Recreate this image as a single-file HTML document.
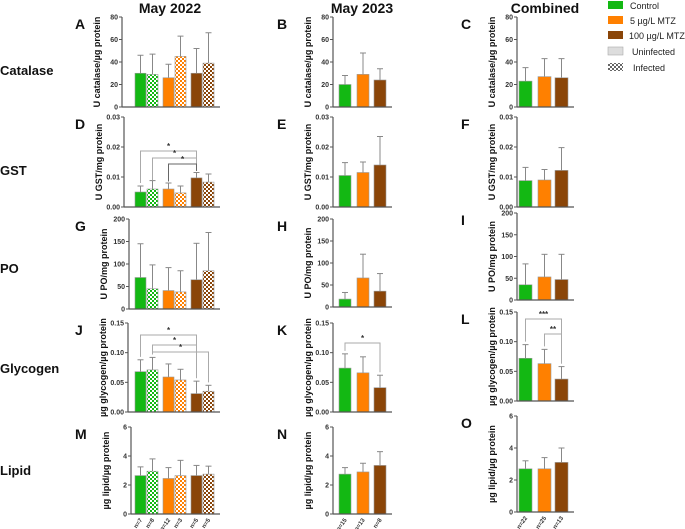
<!DOCTYPE html>
<html><head><meta charset="utf-8"><style>
html,body{margin:0;padding:0;background:#fff;}
svg{display:block;font-family:"Liberation Sans",Arial,sans-serif;}
</style></head><body>
<svg id="chart" width="685" height="529" viewBox="0 0 685 529">
<defs>
<pattern id="chk-green" width="4" height="4" patternUnits="userSpaceOnUse"><rect width="4" height="4" fill="#fff"/><rect width="2" height="2" fill="#13b813"/><rect x="2" y="2" width="2" height="2" fill="#13b813"/></pattern>
<pattern id="chk-orange" width="4" height="4" patternUnits="userSpaceOnUse"><rect width="4" height="4" fill="#fff"/><rect width="2" height="2" fill="#ff8000"/><rect x="2" y="2" width="2" height="2" fill="#ff8000"/></pattern>
<pattern id="chk-brown" width="4" height="4" patternUnits="userSpaceOnUse"><rect width="4" height="4" fill="#fff"/><rect width="2" height="2" fill="#8a4508"/><rect x="2" y="2" width="2" height="2" fill="#8a4508"/></pattern>
<pattern id="chk-grey" width="4" height="4" patternUnits="userSpaceOnUse"><rect width="4" height="4" fill="#fff"/><rect width="2" height="2" fill="#666"/><rect x="2" y="2" width="2" height="2" fill="#666"/></pattern>
</defs>
<g font-weight="bold" font-size="14" fill="#111">
<text x="170" y="13" text-anchor="middle">May 2022</text>
<text x="362" y="13" text-anchor="middle">May 2023</text>
<text x="545" y="13" text-anchor="middle">Combined</text>
</g>
<g font-weight="bold" font-size="13" fill="#111">
<text x="0" y="75">Catalase</text>
<text x="0" y="175">GST</text>
<text x="0" y="273">PO</text>
<text x="0" y="373">Glycogen</text>
<text x="0" y="475">Lipid</text>
</g>
<g font-size="9" fill="#222">
<rect x="608" y="1" width="15" height="8" fill="#13b813"/>
<text x="630" y="9">Control</text>
<rect x="608" y="16" width="15" height="8" fill="#ff8000"/>
<text x="630" y="24">5 µg/L MTZ</text>
<rect x="608" y="31" width="15" height="8" fill="#8a4508"/>
<text x="629" y="39">100 µg/L MTZ</text>
<rect x="608" y="47" width="15" height="8" fill="#ddd" stroke="#aaa" stroke-width="0.6"/>
<text x="632" y="55">Uninfected</text>
<rect x="608" y="63" width="15" height="8" fill="url(#chk-grey)"/>
<text x="633" y="71">Infected</text>
</g>
</svg>
<script>
// ---- data ----
const valsA=[30,29,26,45,30,39]; const errA=[46,47,38,63,52,66];
const valsB=[20,29,24]; const errB=[28,48,34];
const valsC=[23,27,26]; const errC=[35,43,43];
const valsD=[0.005,0.006,0.006,0.0047,0.0097,0.0083]; const errD=[0.007,0.0088,0.008,0.007,0.0115,0.011];
const valsE=[0.0105,0.0115,0.014]; const errE=[0.0148,0.015,0.0235];
const valsF=[0.0088,0.009,0.0122]; const errF=[0.0132,0.0125,0.0198];
const valsG=[70,45,41,38,65,85]; const errG=[145,98,92,85,146,170];
const valsH=[18,66,36]; const errH=[33,120,76];
const valsI=[35,53,47]; const errI=[83,105,105];
const valsJ=[0.068,0.071,0.059,0.054,0.031,0.035]; const errJ=[0.088,0.092,0.081,0.072,0.052,0.045];
const valsK=[0.074,0.066,0.041]; const errK=[0.098,0.093,0.062];
const valsL=[0.072,0.063,0.037]; const errL=[0.095,0.087,0.058];
const valsM=[2.65,2.95,2.45,2.65,2.65,2.75]; const errM=[3.25,3.8,3.2,3.7,3.35,3.3];
const valsN=[2.75,2.9,3.35]; const errN=[3.2,3.5,4.3];
const valsO=[2.7,2.7,3.1]; const errO=[3.2,3.4,4.0];
const ticksCat=["0","20","40","60","80"];
const ticksGst=["0.00","0.01","0.02","0.03"];
const ticksPo=["0","50","100","150","200"];
const ticksGly=["0.00","0.05","0.10","0.15"];
const ticksLip=["0","2","4","6"];
const nLabels1=["n=7","n=8","n=12","n=3","n=5","n=5"];
const nLabels2=["n=15","n=13","n=8"];
const nLabels3=["n=22","n=25","n=13"];

const NS="http://www.w3.org/2000/svg";
const svg=document.getElementById('chart');
function mk(tag,attrs,parent){const e=document.createElementNS(NS,tag);for(const k in attrs)e.setAttribute(k,attrs[k]);(parent||svg).appendChild(e);return e;}
const COL=["#13b813","#ff8000","#8a4508"];
const CHK=["url(#chk-green)","url(#chk-orange)","url(#chk-brown)"];
const col1={bx:[135,147,163,175,191,203],bw:11,end:220,letterX:75};
const col2={bx:[339,357,374],bw:12,end:392,letterX:277};
const col3={bx:[519,538,555],bw:13,end:574,letterX:461};

function panel(o){
  const g=mk('g',{});
  
  
  const ymax=parseFloat(o.ticks[o.ticks.length-1]);
  const y=v=>o.bot-(v/ymax)*(o.bot-o.top);
  const c=o.col;
  const L=mk('text',{x:c.letterX,y:o.top+12,'font-size':14,'font-weight':'bold',fill:'#111'},g);L.textContent=o.letter;
  
  
  o.vals.forEach((v,i)=>{
    const six=o.vals.length===6;
    const ci=six?Math.floor(i/2):i;
    const fill=(six&&i%2===1)?CHK[ci]:COL[ci];
    const x=c.bx[i], w=c.bw, cx=x+w/2;
    const et=y(o.errs[i]);
    const el=mk('line',{x1:cx,x2:cx,y1:y(v),y2:et,stroke:'#888','stroke-width':1},g);
    
    
    mk('line',{x1:cx-3,x2:cx+3,y1:et,y2:et,stroke:'#888','stroke-width':1},g);
    const r=mk('rect',{x:x,y:y(v),width:w,height:o.bot-y(v),fill:fill,stroke:'#999','stroke-width':0.6},g);
    
    
  });
  mk('line',{x1:o.ax,x2:o.ax,y1:o.top,y2:o.bot,stroke:'#555','stroke-width':1.2},g);
  mk('line',{x1:o.ax,x2:c.end,y1:o.bot,y2:o.bot,stroke:'#555','stroke-width':1.2},g);
  o.ticks.forEach(t=>{
    const yy=y(parseFloat(t));
    mk('line',{x1:o.ax-3,x2:o.ax,y1:yy,y2:yy,stroke:'#555','stroke-width':1},g);
    const tx=mk('text',{x:o.ax-4,y:yy+2.5,'font-size':7,'font-weight':'bold','text-anchor':'end',fill:'#333'},g);
    tx.textContent=t;
    
    
  });
  const yt=mk('text',{x:0,y:0,'font-size':9,'font-weight':'bold','text-anchor':'middle',fill:'#111',transform:`translate(${o.ax-22},${(o.top+o.bot)/2}) rotate(-90)`},g);
  yt.textContent=o.title;
  
  
  if(o.n){o.n.forEach((t,i)=>{const cx=c.bx[i]+c.bw/2;
    const tt=mk('text',{x:0,y:0,'font-size':6,'font-weight':'bold','text-anchor':'end',fill:'#333',transform:`translate(${cx+2},${o.bot+6}) rotate(-55)`},g);
    tt.textContent=t;
    
    });}
  (o.sig||[]).forEach(s=>{
    const x1=c.bx[s[0]]+c.bw/2, x2=c.bx[s[1]]+c.bw/2, ly=s[2];
    mk('path',{d:`M${x1},${y(s[3])} L${x1},${ly} L${x2},${ly} L${x2},${y(s[4])}`,fill:'none',stroke:s[6]||'#aaa','stroke-width':1},g);
    const st=mk('text',{x:(x1+x2)/2,y:ly-2,'font-size':8,'font-weight':'bold','text-anchor':'middle',fill:'#333'},g);
    st.textContent=s[5];
    
    
  });
}
panel({letter:'A',col:col1,ax:122,top:17,bot:107,vals:valsA,errs:errA,ticks:ticksCat,title:'U catalase/µg protein'});
panel({letter:'B',col:col2,ax:333,top:17,bot:107,vals:valsB,errs:errB,ticks:ticksCat,title:'U catalase/µg protein'});
panel({letter:'C',col:col3,ax:517,top:17,bot:107,vals:valsC,errs:errC,ticks:ticksCat,title:'U catalase/µg protein'});
panel({letter:'D',col:col1,ax:124,top:117,bot:207,vals:valsD,errs:errD,ticks:ticksGst,title:'U GST/mg protein',
  sig:[[0,4,151,0.008,0.012,'*'],[1,4,158,0.009,0.012,'*'],[2,4,164,0.0085,0.012,'*','#666']]});
panel({letter:'E',col:col2,ax:333,top:117,bot:207,vals:valsE,errs:errE,ticks:ticksGst,title:'U GST/mg protein'});
panel({letter:'F',col:col3,ax:517,top:117,bot:207,vals:valsF,errs:errF,ticks:ticksGst,title:'U GST/mg protein'});
panel({letter:'G',col:col1,ax:129,top:219,bot:309,vals:valsG,errs:errG,ticks:ticksPo,title:'U PO/mg protein'});
panel({letter:'H',col:col2,ax:333,top:219,bot:307,vals:valsH,errs:errH,ticks:ticksPo,title:'U PO/mg protein'});
panel({letter:'I',col:col3,ax:517,top:213,bot:300,vals:valsI,errs:errI,ticks:ticksPo,title:'U PO/mg protein'});
panel({letter:'J',col:col1,ax:128,top:323,bot:412,vals:valsJ,errs:errJ,ticks:ticksGly,title:'µg glycogen/µg protein',
  sig:[[0,4,335,0.093,0.057,'*'],[1,4,345,0.097,0.057,'*'],[1,5,352,0.097,0.05,'*']]});
panel({letter:'K',col:col2,ax:333,top:323,bot:412,vals:valsK,errs:errK,ticks:ticksGly,title:'µg glycogen/µg protein',
  sig:[[0,2,343,0.103,0.067,'*']]});
panel({letter:'L',col:col3,ax:517,top:312,bot:401,vals:valsL,errs:errL,ticks:ticksGly,title:'µg glycogen/µg protein',
  sig:[[0,2,319,0.1,0.063,'***'],[1,2,334,0.092,0.063,'**']]});
panel({letter:'M',col:col1,ax:131,top:427,bot:514,vals:valsM,errs:errM,ticks:ticksLip,title:'µg lipid/µg protein',n:nLabels1});
panel({letter:'N',col:col2,ax:333,top:427,bot:514,vals:valsN,errs:errN,ticks:ticksLip,title:'µg lipid/µg protein',n:nLabels2});
panel({letter:'O',col:col3,ax:517,top:416,bot:512,vals:valsO,errs:errO,ticks:ticksLip,title:'µg lipid/µg protein',n:nLabels3});
</script>
</body></html>
